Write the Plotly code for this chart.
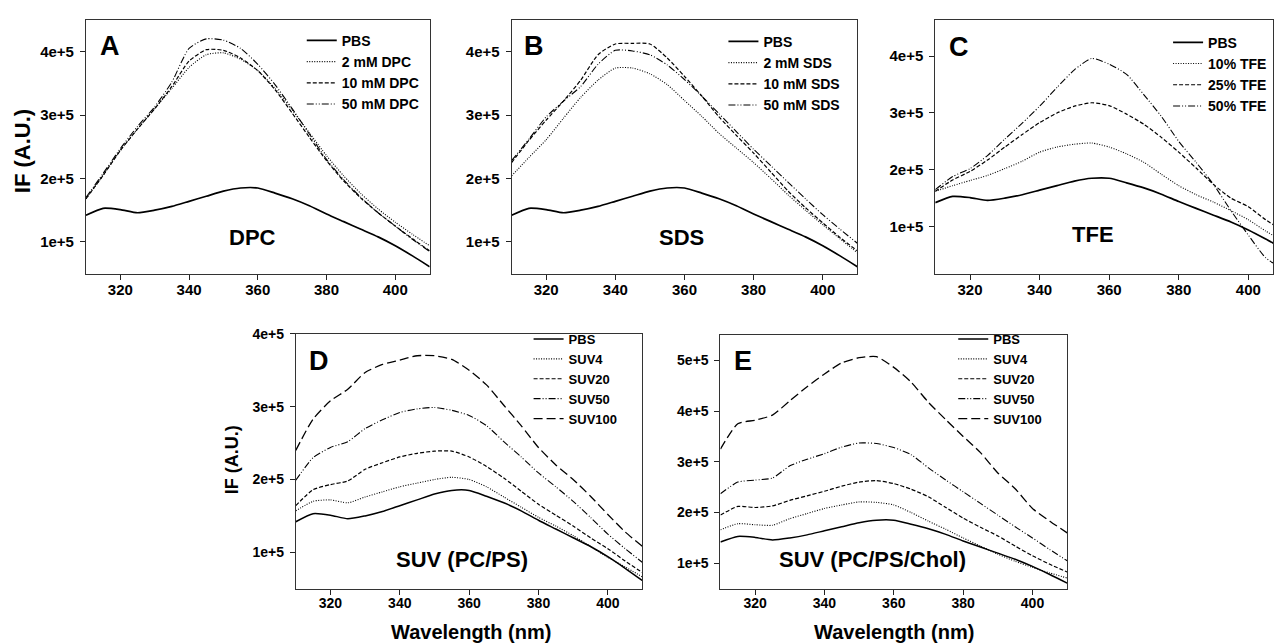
import plotly.graph_objects as go

W, H = 1274, 644

# ---------------- data ----------------
wavelength = [310, 315, 320, 325, 330, 335, 340, 345, 350, 355, 360,
              365, 370, 375, 380, 385, 390, 395, 400, 405, 410]

pbs = [1.42, 1.53, 1.51, 1.46, 1.50, 1.56, 1.64, 1.72, 1.80, 1.85, 1.85,
       1.77, 1.68, 1.57, 1.44, 1.32, 1.20, 1.08, 0.94, 0.78, 0.61]

dpc_2 = [1.68, 2.05, 2.44, 2.78, 3.10, 3.42, 3.75, 3.95, 3.98, 3.88, 3.70,
         3.42, 3.08, 2.72, 2.36, 2.04, 1.76, 1.52, 1.31, 1.12, 0.94]
dpc_10 = [1.68, 2.05, 2.44, 2.78, 3.10, 3.45, 3.85, 4.03, 4.02, 3.90, 3.70,
          3.40, 3.03, 2.65, 2.28, 1.96, 1.69, 1.46, 1.25, 1.05, 0.86]
dpc_50 = [1.70, 2.08, 2.47, 2.82, 3.13, 3.52, 4.05, 4.20, 4.18, 4.05, 3.80,
          3.48, 3.10, 2.70, 2.30, 1.98, 1.70, 1.46, 1.25, 1.04, 0.85]

sds_2 = [2.04, 2.33, 2.61, 2.95, 3.28, 3.55, 3.74, 3.74, 3.65, 3.48, 3.23,
         2.98, 2.71, 2.48, 2.25, 2.00, 1.74, 1.50, 1.27, 1.05, 0.83]
sds_10 = [2.25, 2.60, 2.92, 3.22, 3.55, 3.95, 4.12, 4.13, 4.12, 3.90, 3.61,
          3.30, 2.97, 2.68, 2.40, 2.10, 1.80, 1.54, 1.30, 1.07, 0.86]
sds_50 = [2.28, 2.62, 2.97, 3.22, 3.45, 3.80, 4.02, 4.01, 3.95, 3.79, 3.56,
          3.30, 3.02, 2.74, 2.46, 2.20, 1.94, 1.68, 1.43, 1.20, 0.98]

tfe_10 = [1.62, 1.72, 1.81, 1.90, 2.02, 2.15, 2.31, 2.40, 2.45, 2.47, 2.40,
          2.28, 2.13, 1.92, 1.72, 1.56, 1.43, 1.28, 1.12, 0.92, 0.74]
tfe_25 = [1.62, 1.82, 1.97, 2.17, 2.40, 2.62, 2.83, 3.00, 3.12, 3.18, 3.13,
          2.98, 2.80, 2.57, 2.31, 2.03, 1.74, 1.50, 1.35, 1.12, 0.92]
tfe_50 = [1.65, 1.88, 2.02, 2.25, 2.54, 2.82, 3.12, 3.45, 3.76, 3.96, 3.86,
          3.68, 3.32, 2.94, 2.50, 2.13, 1.74, 1.28, 0.85, 0.45, 0.25]

pcps_4 = [1.57, 1.70, 1.72, 1.68, 1.76, 1.83, 1.90, 1.95, 2.00, 2.03, 2.00,
          1.90, 1.76, 1.62, 1.48, 1.36, 1.23, 1.08, 0.93, 0.80, 0.66]
pcps_20 = [1.64, 1.86, 1.93, 1.98, 2.14, 2.23, 2.31, 2.36, 2.39, 2.39, 2.31,
           2.18, 2.02, 1.84, 1.66, 1.51, 1.36, 1.20, 1.05, 0.88, 0.72]
pcps_50 = [1.99, 2.30, 2.44, 2.52, 2.70, 2.82, 2.92, 2.97, 2.99, 2.95, 2.88,
           2.74, 2.52, 2.31, 2.09, 1.90, 1.70, 1.48, 1.25, 1.05, 0.86]
pcps_100 = [2.40, 2.83, 3.08, 3.24, 3.47, 3.58, 3.64, 3.70, 3.70, 3.65, 3.50,
            3.30, 3.02, 2.74, 2.44, 2.20, 2.00, 1.77, 1.52, 1.28, 1.08]

chol_4 = [1.66, 1.78, 1.76, 1.75, 1.88, 1.98, 2.08, 2.15, 2.21, 2.20, 2.15,
          2.00, 1.83, 1.67, 1.50, 1.34, 1.18, 1.04, 0.92, 0.81, 0.71]
chol_20 = [1.95, 2.12, 2.10, 2.13, 2.24, 2.33, 2.42, 2.52, 2.60, 2.63, 2.57,
           2.46, 2.31, 2.10, 1.89, 1.71, 1.54, 1.34, 1.15, 0.98, 0.83]
chol_50 = [2.37, 2.60, 2.64, 2.68, 2.92, 3.05, 3.16, 3.29, 3.37, 3.36, 3.28,
           3.14, 2.88, 2.64, 2.41, 2.18, 1.95, 1.72, 1.50, 1.27, 1.05]
chol_100 = [3.25, 3.75, 3.82, 3.92, 4.20, 4.48, 4.73, 4.95, 5.05, 5.07, 4.86,
            4.57, 4.17, 3.83, 3.50, 3.18, 2.78, 2.47, 2.08, 1.83, 1.60]

SCALE = 1e5  # values above are in units of 1e+5

names_A = ["PBS", "2 mM DPC", "10 mM DPC", "50 mM DPC"]
names_B = ["PBS", "2 mM SDS", "10 mM SDS", "50 mM SDS"]
names_C = ["PBS", "10% TFE", "25% TFE", "50% TFE"]
names_DE = ["PBS", "SUV4", "SUV20", "SUV50", "SUV100"]

x_ticks = [320, 340, 360, 380, 400]
y_ticks4 = [1e5, 2e5, 3e5, 4e5]
y_labels4 = ["1e+5", "2e+5", "3e+5", "4e+5"]
y_ticks5 = [1e5, 2e5, 3e5, 4e5, 5e5]
y_labels5 = ["1e+5", "2e+5", "3e+5", "4e+5", "5e+5"]

# ---------------- styling ----------------
FONT = "Liberation Sans, Arial, sans-serif"
DOT = "1px,1.5px"
DASH = "4px,2px"
DASHDOTDOT = "7px,2px,1px,2px,1px,2px"
LONGDASH = "9px,4px"

styles4 = [("solid", 1.7), (DOT, 1.1), (DASH, 1.2), (DASHDOTDOT, 1.1)]
styles5 = [("solid", 1.5), (DOT, 1.1), (DASH, 1.2), (DASHDOTDOT, 1.1), (LONGDASH, 1.3)]


def px_x(p):
    return p / W


def px_y(p):
    return 1 - p / H


# panel boxes in pixels: left, right, top, bottom
boxes = {
    1: (86, 430, 12, 269),
    2: (512, 858, 12, 269),
    3: (936, 1274, 12, 269),
    4: (296, 643, 330, 588),
    5: (721, 1068, 331, 588),
}
x_ranges = {1: [310, 410], 2: [310, 410], 3: [310, 407.1], 4: [310, 410], 5: [310, 410]}
y_ranges = {1: [5e4, 4.5e5], 2: [5e4, 4.5e5], 3: [1.7e4, 4.64e5], 4: [5e4, 4e5], 5: [5e4, 5.5e5]}
tick_size = {1: 15, 2: 15, 3: 15, 4: 14, 5: 14}
legend_size = {1: 14, 2: 14, 3: 14, 4: 13, 5: 13}

panels = {
    1: (names_A, [pbs, dpc_2, dpc_10, dpc_50], styles4),
    2: (names_B, [pbs, sds_2, sds_10, sds_50], styles4),
    3: (names_C, [pbs, tfe_10, tfe_25, tfe_50], styles4),
    4: (names_DE, [pbs, pcps_4, pcps_20, pcps_50, pcps_100], styles5),
    5: (names_DE, [pbs, chol_4, chol_20, chol_50, chol_100], styles5),
}

# legend top-left anchor positions in pixels
legend_pos = {1: (302, 17), 2: (724, 18), 3: (1169, 19), 4: (529, 320), 5: (954, 320)}

fig = go.Figure()
for k, (names, series, styles) in panels.items():
    xa = "x" if k == 1 else f"x{k}"
    ya = "y" if k == 1 else f"y{k}"
    lg = "legend" if k == 1 else f"legend{k}"
    for name, vals, (dash, lw) in zip(names, series, styles):
        fig.add_trace(go.Scatter(
            x=wavelength, y=[v * SCALE for v in vals], name=name,
            mode="lines", line=dict(color="black", width=lw, dash=dash, shape="spline", smoothing=0.6),
            xaxis=xa, yaxis=ya, legend=lg, showlegend=True,
        ))

layout = dict(
    width=W, height=H, margin=dict(l=0, r=0, t=0, b=0),
    paper_bgcolor="white", plot_bgcolor="white", showlegend=True,
    font=dict(family=FONT, color="black"),
)
for k, (l, r, t, b) in boxes.items():
    xk = "xaxis" if k == 1 else f"xaxis{k}"
    yk = "yaxis" if k == 1 else f"yaxis{k}"
    xa_anchor = "y" if k == 1 else f"y{k}"
    ya_anchor = "x" if k == 1 else f"x{k}"
    tickfont = dict(family=FONT, size=tick_size[k], color="black", weight="bold")
    layout[xk] = dict(
        domain=[px_x(l), min(px_x(r), 1.0)], range=x_ranges[k], anchor=xa_anchor,
        tickvals=x_ticks, ticktext=[str(v) for v in x_ticks], ticks="outside", ticklen=5,
        tickcolor="#222", showline=True, linecolor="#333", linewidth=1, mirror=True,
        showgrid=False, zeroline=False, tickfont=tickfont, ticklabelstandoff=-3,
    )
    yt = y_ticks5 if k == 5 else y_ticks4
    yl = y_labels5 if k == 5 else y_labels4
    layout[yk] = dict(
        domain=[px_y(b), px_y(t)], range=y_ranges[k], anchor=ya_anchor,
        tickvals=yt, ticktext=yl, ticks="outside", ticklen=5,
        tickcolor="#222", showline=True, linecolor="#333", linewidth=1, mirror=True,
        showgrid=False, zeroline=False, tickfont=tickfont, ticklabelstandoff=3,
    )
    lg = "legend" if k == 1 else f"legend{k}"
    lx, ly = legend_pos[k]
    layout[lg] = dict(
        x=px_x(lx), y=px_y(ly), xanchor="left", yanchor="top",
        bgcolor="rgba(0,0,0,0)", borderwidth=0, itemwidth=30, tracegroupgap=0,
        font=dict(family=FONT, size=legend_size[k], color="black", weight="bold"),
    )

fig.update_layout(**layout)


def note(txt, x, y, size, angle=0):
    fig.add_annotation(text=txt, x=px_x(x), y=px_y(y), xref="paper", yref="paper",
                       xanchor="center", yanchor="middle", textangle=angle, showarrow=False,
                       font=dict(family=FONT, size=size, color="black", weight="bold"))


# panel letters and labels
for txt, x, y in [("A", 110, 38), ("B", 534, 38), ("C", 960, 39), ("D", 319, 357), ("E", 744, 357)]:
    note(txt, x, y, 27)
for txt, x, y in [("DPC", 253, 232), ("SDS", 682, 232), ("TFE", 1094, 229),
                  ("SUV (PC/PS)", 462, 558), ("SUV (PC/PS/Chol)", 873, 558)]:
    note(txt, x, y, 22)

# axis titles
note("IF (A.U.)", 22, 145, 22, angle=-90)
note("IF (A.U.)", 233, 457, 18, angle=-90)
for x, y in [(471, 632), (895, 632)]:
    note("Wavelength (nm)", x, y, 20)

fig.write_html("out.html")
